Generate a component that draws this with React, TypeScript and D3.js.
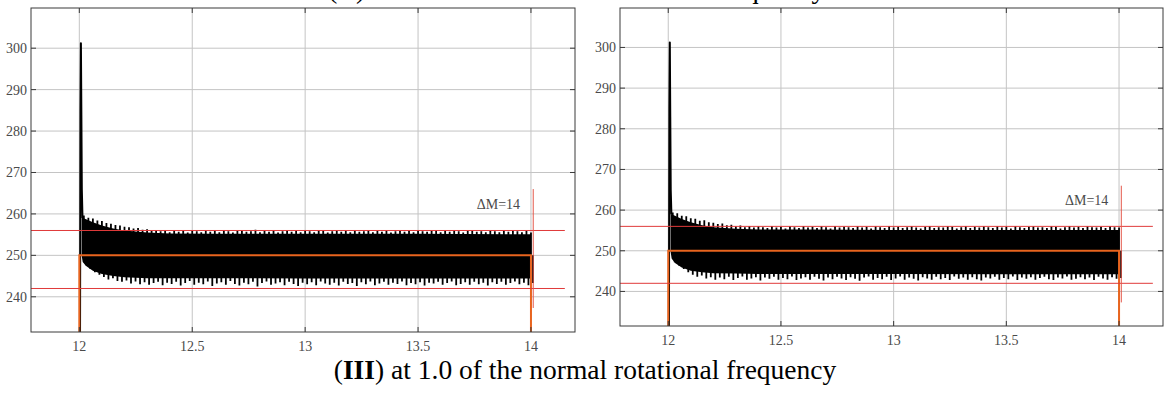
import React from 'react';
import * as d3 from 'd3';

// ---- data ----
const X_TICKS = [12, 12.5, 13, 13.5, 14];
const X_TICK_LABELS = ['12', '12.5', '13', '13.5', '14'];
const Y_TICKS = [240, 250, 260, 270, 280, 290, 300];
const X_DOMAIN: [number, number] = [11.786, 14.195];
const Y_DOMAIN: [number, number] = [231.5, 309.7];

// oscillation tooth tips, one per 0.02 s starting at 12.02
const TOOTH_START = 12.02;
const TOOTH_STEP = 0.02;
const topTipsL = [
  259.6, 259.1, 258.9, 258.4, 258.3, 257.8, 257.6, 257.3, 257.2, 256.9,
  256.8, 256.5, 256.6, 256.2, 256.3, 255.9, 256.1, 255.8, 256.0, 255.6,
  256.0, 255.7, 255.9, 255.5, 256.1, 255.8, 255.6, 256.0, 255.7, 255.9,
  255.6, 256.1, 255.8, 255.5, 255.9, 256.0, 255.7, 255.8, 256.2, 255.6,
  255.9, 255.7, 256.0, 255.5, 255.8, 256.1, 255.7, 255.9, 255.6, 256.0,
  255.8, 255.6, 256.0, 255.9, 255.5, 255.8, 256.1, 255.7, 255.9, 255.6,
  256.0, 255.7, 255.8, 256.1, 255.6, 255.9, 255.7, 256.0, 255.5, 255.8,
  256.0, 255.7, 255.9, 255.6, 256.1, 255.8, 255.7, 255.9, 256.0, 255.6,
  255.9, 255.7, 256.0, 255.8, 255.5, 255.9, 256.1, 255.7, 255.8, 255.6,
  256.0, 255.8, 255.6, 255.9, 255.7, 256.0, 255.8, 255.6, 255.9, 255.5,
];
const botTipsL = [
  247.6, 246.7, 245.9, 245.3, 244.8, 244.2, 244.5, 243.8, 243.6, 243.9,
  243.2, 243.7, 243.0, 243.5, 242.9, 243.3, 243.6, 242.8, 243.4, 243.1,
  243.6, 242.7, 243.3, 243.8, 242.9, 243.4, 243.0, 243.7, 242.6, 243.2,
  243.5, 242.9, 243.8, 243.1, 242.7, 243.4, 243.0, 243.6, 242.5, 243.3,
  243.7, 242.9, 243.2, 243.5, 242.8, 243.6, 243.1, 242.6, 243.4, 243.0,
  243.5, 242.8, 243.7, 243.2, 242.9, 243.4, 242.7, 243.6, 243.1, 243.3,
  242.6, 243.5, 243.0, 243.7, 242.8, 243.2, 243.6, 242.9, 243.4, 243.1,
  243.7, 242.8, 243.3, 243.0, 243.5, 242.7, 243.4, 243.2, 243.6, 242.9,
  243.3, 243.7, 242.8, 243.1, 243.5, 242.9, 243.6, 243.0, 243.4, 242.7,
  243.5, 243.1, 243.6, 242.9, 243.3, 243.7, 243.0, 243.4, 242.8, 243.3,
];
const topTipsR = [
  259.4, 259.2, 258.6, 258.5, 258.0, 257.9, 257.4, 257.5, 257.0, 256.9,
  256.6, 256.7, 256.3, 256.4, 256.0, 256.2, 255.8, 256.1, 255.7, 256.0,
  255.8, 255.6, 256.1, 255.7, 255.9, 255.5, 256.0, 255.8, 255.6, 256.1,
  255.7, 255.9, 255.6, 256.0, 255.8, 255.5, 256.1, 255.7, 255.9, 255.8,
  255.6, 256.0, 255.7, 255.9, 255.5, 256.0, 255.8, 255.6, 256.1, 255.7,
  255.9, 255.6, 255.8, 256.0, 255.7, 255.5, 255.9, 256.1, 255.6, 255.8,
  255.7, 256.0, 255.9, 255.5, 255.8, 256.1, 255.6, 255.9, 255.7, 256.0,
  255.8, 255.6, 256.0, 255.7, 255.9, 255.5, 256.1, 255.8, 255.6, 255.9,
  256.0, 255.7, 255.8, 255.6, 256.0, 255.9, 255.5, 255.8, 256.1, 255.7,
  255.9, 255.6, 256.0, 255.8, 255.7, 255.9, 255.6, 256.0, 255.8, 255.7,
];
const botTipsR = [
  247.2, 246.3, 245.5, 244.7, 244.1, 243.6, 243.9, 243.2, 243.5, 242.9,
  243.4, 243.0, 243.6, 242.8, 243.3, 243.7, 242.9, 243.2, 243.5, 242.7,
  243.4, 243.1, 243.6, 242.9, 243.3, 243.0, 243.7, 242.8, 243.2, 243.5,
  242.9, 243.6, 243.1, 242.7, 243.4, 243.0, 243.6, 243.2, 242.8, 243.5,
  243.1, 242.6, 243.4, 243.7, 242.9, 243.3, 243.0, 243.6, 242.8, 243.2,
  243.7, 242.9, 243.4, 243.1, 242.7, 243.5, 243.2, 242.9, 243.6, 243.0,
  243.3, 242.8, 243.7, 243.1, 243.4, 242.9, 243.5, 243.0, 242.7, 243.4,
  243.2, 243.6, 242.9, 243.3, 243.0, 243.7, 242.8, 243.4, 243.1, 243.5,
  242.9, 243.3, 243.6, 243.0, 242.8, 243.4, 243.2, 243.7, 242.9, 243.1,
  243.5, 243.0, 243.4, 242.8, 243.6, 243.2, 242.9, 243.5, 243.1, 243.3,
];

// solid inner band of the oscillation
const envT = [12.010, 12.015, 12.03, 12.06, 12.1, 12.15, 12.2, 12.3, 12.4, 12.6, 13.0, 13.5, 14.0];
const envTopL = [262, 259.0, 258.7, 258.0, 257.2, 256.5, 256.0, 255.5, 255.3, 255.2, 255.2, 255.2, 255.1];
const envBotL = [250, 248.4, 247.4, 246.3, 245.5, 245.0, 244.7, 244.5, 244.5, 244.5, 244.4, 244.4, 244.4];
const envTopR = [262, 259.0, 258.6, 257.8, 257.0, 256.3, 255.8, 255.4, 255.2, 255.2, 255.1, 255.1, 255.1];
const envBotR = [250, 248.1, 247.0, 245.9, 245.1, 244.7, 244.5, 244.4, 244.3, 244.3, 244.3, 244.2, 244.2];

// start-up spike
const spikeT = [12.003, 12.005, 12.007, 12.009, 12.011, 12.014];
const spikeVL = [228, 285, 301.2, 284, 266, 259];
const spikeVR = [228, 285, 301.2, 283, 265, 259];

// reference lines
const MEAN_LEVEL = 250;
const LIMIT_LEVELS = [256, 242];
const LIMIT_END_T = 14.15;
const STEP_T = [12, 12, 14, 14];
const STEP_V = [Y_DOMAIN[0], 250, 250, Y_DOMAIN[0]];
const MARKER_T = 14.01;
const MARKER_RANGE = [237.3, 266];
const ANNOTATION = 'ΔM=14';
const ANNOT_T = 13.76;
const ANNOT_V = 261.3;

const CAPTION_PREV = '(II) at 0.9 of the normal rotational frequency';
const CAPTION_BOLD = 'III';
const CAPTION_REST = ' at 1.0 of the normal rotational frequency';

const FONT = "'Liberation Serif', 'Times New Roman', serif";

type Box = { left: number; right: number; top: number; bottom: number };

function Panel({ id, box, topTips, botTips, envTop, envBot, spikeV }: {
  id: string; box: Box; topTips: number[]; botTips: number[];
  envTop: number[]; envBot: number[]; spikeV: number[];
}) {
  const x = d3.scaleLinear().domain(X_DOMAIN).range([box.left, box.right]);
  const y = d3.scaleLinear().domain(Y_DOMAIN).range([box.bottom, box.top]);

  const band = d3.area<number>()
    .x((_, i) => x(envT[i]))
    .y0((_, i) => y(envBot[i]))
    .y1((_, i) => y(envTop[i]))(envT) || '';

  const teeth = topTips.map((v, i) => {
    const xx = x(TOOTH_START + i * TOOTH_STEP);
    return `M${xx},${y(MEAN_LEVEL)}V${y(v)}M${xx + 2},${y(MEAN_LEVEL)}V${y(botTips[i])}`;
  }).join('');

  const spike = d3.line<number>()
    .x((_, i) => x(spikeT[i]))
    .y((v) => y(v))(spikeV) || '';

  const step = d3.line<number>()
    .x((t) => x(t))
    .y((_, i) => y(STEP_V[i]))(STEP_T) || '';

  const tickLen = 5;
  const gridColor = '#c4c4c4';
  const axisColor = '#3a3a3a';
  const labelColor = '#4a4a4a';

  return (
    <g>
      <defs>
        <clipPath id={`clip-${id}`}>
          <rect x={box.left} y={box.top} width={box.right - box.left} height={box.bottom - box.top} />
        </clipPath>
      </defs>
      <rect x={box.left} y={box.top} width={box.right - box.left} height={box.bottom - box.top} fill="#fff" />
      {X_TICKS.map((t) => (
        <line key={`gx${t}`} x1={x(t)} x2={x(t)} y1={box.top} y2={box.bottom} stroke={gridColor} strokeWidth={1} />
      ))}
      {Y_TICKS.map((v) => (
        <line key={`gy${v}`} x1={box.left} x2={box.right} y1={y(v)} y2={y(v)} stroke={gridColor} strokeWidth={1} />
      ))}
      <g clipPath={`url(#clip-${id})`}>
        <path d={band} fill="#000" />
        <path d={teeth} stroke="#000" strokeWidth={1.8} fill="none" />
        <path d={spike} stroke="#000" strokeWidth={2} fill="none" strokeLinejoin="round" />
        <path d={step} stroke="#e8641e" strokeWidth={2} fill="none" />
      </g>
      {LIMIT_LEVELS.map((v) => (
        <line key={`lim${v}`} x1={box.left} x2={x(LIMIT_END_T)} y1={y(v)} y2={y(v)} stroke="#e03a3a" strokeWidth={1} />
      ))}
      <line x1={x(MARKER_T)} x2={x(MARKER_T)} y1={y(MARKER_RANGE[0])} y2={y(MARKER_RANGE[1])} stroke="#e4584a" strokeWidth={1} />
      <text x={x(ANNOT_T)} y={y(ANNOT_V)} fontFamily={FONT} fontSize={14} fill={labelColor}>{ANNOTATION}</text>
      {/* box and ticks */}
      <rect x={box.left} y={box.top} width={box.right - box.left} height={box.bottom - box.top} fill="none" stroke={axisColor} strokeWidth={1} />
      {X_TICKS.map((t) => (
        <g key={`tx${t}`}>
          <line x1={x(t)} x2={x(t)} y1={box.bottom} y2={box.bottom - tickLen} stroke={axisColor} />
          <line x1={x(t)} x2={x(t)} y1={box.top} y2={box.top + tickLen} stroke={axisColor} />
        </g>
      ))}
      {Y_TICKS.map((v) => (
        <g key={`ty${v}`}>
          <line x1={box.left} x2={box.left + tickLen} y1={y(v)} y2={y(v)} stroke={axisColor} />
          <line x1={box.right} x2={box.right - tickLen} y1={y(v)} y2={y(v)} stroke={axisColor} />
        </g>
      ))}
      {X_TICKS.map((t, i) => (
        <text key={`lx${t}`} x={x(t)} y={box.bottom + 19} textAnchor="middle" fontFamily={FONT} fontSize={14} fill={labelColor}>
          {X_TICK_LABELS[i]}
        </text>
      ))}
      {Y_TICKS.map((v) => (
        <text key={`ly${v}`} x={box.left - 4} y={y(v)} dy="0.35em" textAnchor="end" fontFamily={FONT} fontSize={14} fill={labelColor}>
          {v}
        </text>
      ))}
    </g>
  );
}

export default function App() {
  return (
    <svg width={1170} height={394} viewBox="0 0 1170 394"
      style={{ position: 'absolute', left: 0, top: 0, display: 'block', background: '#fff' }}>
      <rect x={0} y={0} width={1170} height={394} fill="#fff" />
      <text x={328} y={-2} fontFamily={FONT} fontSize={28} fill="#000">{CAPTION_PREV}</text>
      <Panel id="L" box={{ left: 31, right: 575, top: 8, bottom: 332 }}
        topTips={topTipsL} botTips={botTipsL} envTop={envTopL} envBot={envBotL} spikeV={spikeVL} />
      <Panel id="R" box={{ left: 620, right: 1163, top: 8, bottom: 326 }}
        topTips={topTipsR} botTips={botTipsR} envTop={envTopR} envBot={envBotR} spikeV={spikeVR} />
      <text x={585} y={379} textAnchor="middle" fontFamily={FONT} fontSize={27.5} fill="#000">
        (<tspan fontWeight="bold">{CAPTION_BOLD}</tspan>){CAPTION_REST}
      </text>
    </svg>
  );
}
